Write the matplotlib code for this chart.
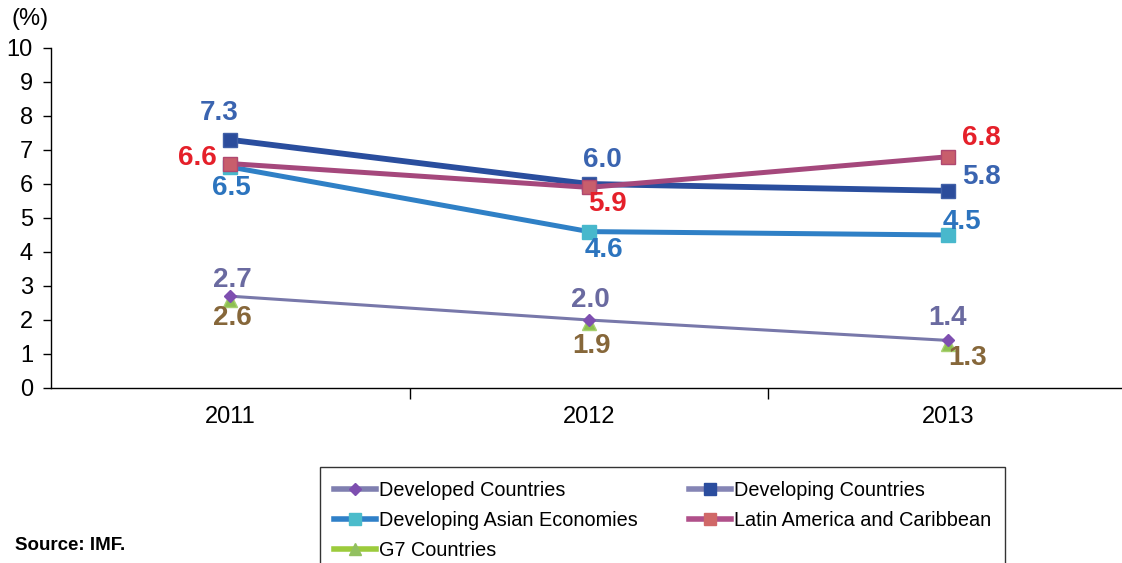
import numpy as np
import matplotlib.pyplot as plt
from matplotlib.lines import Line2D

plt.rcParams['font.family'] = ['Liberation Sans', 'DejaVu Sans']

years = ['2011', '2012', '2013']
developed = [2.7, 2.0, 1.4]
developing = [7.3, 6.0, 5.8]
dev_asia = [6.5, 4.6, 4.5]
latam = [6.6, 5.9, 6.8]
g7 = [2.6, 1.9, 1.3]

# label offsets in pixels (dx, dy) for each point
off_developing = [(-11, 27), (13, 24), (34, 14)]
off_latam = [(-33, 6), (18, -17), (34, 19)]
off_asia = [(1, -21), (15, -18), (14, 13)]
off_developed = [(2, 16), (1, 20), (0, 22)]
off_g7 = [(2, -18), (2, -23), (20, -14)]

W, H = 1122, 563
fig = plt.figure(figsize=(W / 100, H / 100), dpi=100)
ax = fig.add_axes([51 / W, 1 - 388 / H, 1076 / W, 340 / H])

x = np.arange(len(years))

ax.plot(x, developed, color='#7878AA', lw=2.2, marker='D', ms=6,
        mfc='#7E4FB0', mec='#7E4FB0', zorder=3)
ax.plot(x, g7, color='#9CCB3C', lw=0, marker='^', ms=10,
        mfc='#8DC050', mec='#A8D070', zorder=2)
ax.plot(x, dev_asia, color='#2F80C6', lw=3.6, marker='s', ms=10,
        mfc='#48B8CC', mec='#48B8CC', zorder=4)
ax.plot(x, developing, color='#2A4E9E', lw=4.2, marker='s', ms=10,
        mfc='#2B4C9B', mec='#4060A8', zorder=5)
ax.plot(x, latam, color='#A5487C', lw=3.6, marker='s', ms=10,
        mfc='#C85E6C', mec='#B04870', zorder=6)

def put_labels(vals, offs, color):
    for xi, v, (dx, dy) in zip(x, vals, offs):
        ax.annotate(f'{v:.1f}', (xi, v), xytext=(dx, dy), textcoords='offset pixels',
                    ha='center', va='center', fontsize=20, fontweight='bold',
                    color=color, zorder=10)

put_labels(developing, off_developing, '#3A64B0')
put_labels(latam, off_latam, '#E5202A')
put_labels(dev_asia, off_asia, '#2C74BE')
put_labels(developed, off_developed, '#6A6AA0')
put_labels(g7, off_g7, '#86673A')

ax.set_xlim(-0.5, 2.5)
ax.set_ylim(0, 10)
ax.set_yticks(range(0, 11))
ax.set_xticks(x)
ax.set_xticklabels(years)
ax.set_xticks([0.5, 1.5], minor=True)
ax.tick_params(axis='x', which='major', length=0, pad=13, labelsize=17)
ax.tick_params(axis='x', which='minor', length=8, direction='out', width=1)
ax.tick_params(axis='y', length=6, direction='out', width=1, labelsize=17, pad=7)
for s in ['top', 'right']:
    ax.spines[s].set_visible(False)
ax.spines['left'].set_linewidth(1)
ax.spines['bottom'].set_linewidth(1)

fig.text(30 / W, 1 - 19 / H, '(%)', ha='center', va='center', fontsize=17)
fig.text(15 / W, 1 - 546 / H, 'Source: IMF.', ha='left', va='center',
         fontsize=13.5, fontweight='bold')

handles = [
    Line2D([], [], color='#7F7FB0', lw=4, marker='D', ms=6, mfc='#7E4FB0', mec='#7E4FB0'),
    Line2D([], [], color='#2F80C8', lw=4, marker='s', ms=9, mfc='#4BBCCB', mec='#4BBCCB'),
    Line2D([], [], color='#9CCB3C', lw=4, marker='^', ms=9, mfc='#92C060', mec='#92C060'),
    Line2D([], [], color='#8585B5', lw=4, marker='s', ms=9, mfc='#2B4D9E', mec='#2B4D9E'),
    Line2D([], [], color='#B0508A', lw=4, marker='s', ms=9, mfc='#D06868', mec='#D06868'),
]
labels = ['Developed Countries', 'Developing Asian Economies', 'G7 Countries',
          'Developing Countries', 'Latin America and Caribbean']
leg = fig.legend(handles, labels, ncol=2, loc='upper left',
                 bbox_to_anchor=(320 / W, 1 - 467 / H), borderaxespad=0,
                 fontsize=14.3, frameon=True, fancybox=False, edgecolor='black',
                 handlelength=2.1, handletextpad=0.15, columnspacing=2.6,
                 labelspacing=0.55, borderpad=0.7)
leg.get_frame().set_linewidth(1)

fig.savefig('out.png', dpi=100)
